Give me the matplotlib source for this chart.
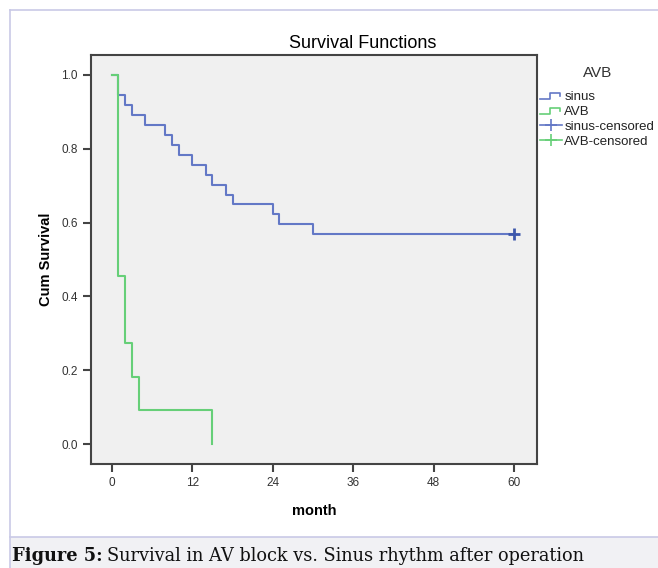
import matplotlib
matplotlib.use("Agg")
import matplotlib.pyplot as plt
from matplotlib.lines import Line2D
from matplotlib.patches import Rectangle
from matplotlib.legend_handler import HandlerBase

plt.rcParams["font.family"] = ["Liberation Sans", "DejaVu Sans"]

# ---- data ----
sinus_time = [0, 1, 2, 3, 5, 8, 9, 10, 12, 14, 15, 17, 18, 24, 25, 30, 60]
sinus_surv = [1.0, 0.946, 0.919, 0.892, 0.865, 0.838, 0.811, 0.784, 0.757,
              0.730, 0.703, 0.676, 0.649, 0.622, 0.595, 0.568, 0.568]
avb_time = [0, 1, 2, 3, 4, 15]
avb_surv = [1.0, 0.455, 0.273, 0.182, 0.091, 0.0]
sinus_cens_time = [60]
sinus_cens_surv = [0.568]
x_ticks = [0, 12, 24, 36, 48, 60]
y_ticks = [0.0, 0.2, 0.4, 0.6, 0.8, 1.0]
legend_labels = ["sinus", "AVB", "sinus-censored", "AVB-censored"]

BLUE = "#6378c6"
BLUE_D = "#3e58ac"
GREEN = "#66cf78"
GREEN_D = "#2eb848"

W, H = 658, 568
fig = plt.figure(figsize=(W / 100, H / 100), dpi=100)
fig.patch.set_facecolor("white")

# page decorations
fig.add_artist(Rectangle((10 / W, 0), 1, (568 - 537) / H, transform=fig.transFigure,
                         facecolor="#f1f1f4", edgecolor="none"))
fig.add_artist(Line2D([10 / W, 1], [(568 - 537) / H] * 2, transform=fig.transFigure,
                      color="#c9c9e6", lw=1.2))
fig.add_artist(Line2D([10 / W, 1], [(568 - 10) / H] * 2, transform=fig.transFigure,
                      color="#c9c9e6", lw=1.2))
fig.add_artist(Line2D([10 / W] * 2, [0, (568 - 10) / H], transform=fig.transFigure,
                      color="#c9c9e6", lw=1.2))

ax = fig.add_axes([91 / W, (568 - 464) / H, (537 - 91) / W, (464 - 55) / H])
ax.set_facecolor("#f0f0f0")

ax.step(sinus_time, sinus_surv, where="post", color=BLUE, lw=1.5)
ax.step(avb_time, avb_surv, where="post", color=GREEN, lw=1.5)
ax.plot(sinus_cens_time, sinus_cens_surv, linestyle="none", marker="+",
        color=BLUE_D, ms=9, mew=2)

ax.set_xlim(-3.1, 63.4)
ax.set_ylim(-0.054, 1.054)
ax.set_xticks(x_ticks)
ax.set_yticks(y_ticks)
ax.set_yticklabels([f"{v:.1f}" for v in y_ticks])
ax.tick_params(direction="out", length=6, width=1.5, color="#444444",
               labelsize=8.5, labelcolor="#333333")
for s in ax.spines.values():
    s.set_color("#444444")
    s.set_linewidth(1.5)

ax.set_xlabel("month", fontsize=10.5, fontweight="bold", labelpad=11)
ax.set_ylabel("Cum Survival", fontsize=10.5, fontweight="bold", labelpad=6)

fig.text(363 / W, (568 - 43) / H, "Survival Functions", ha="center", va="center",
         fontsize=13)


class StepHandler(HandlerBase):
    def create_artists(self, legend, orig_handle, xdescent, ydescent, width, height,
                       fontsize, trans):
        w, h = width, height
        xs = [-xdescent, 0.45 * w - xdescent, 0.45 * w - xdescent, 0.9 * w - xdescent,
              0.9 * w - xdescent]
        ys = [0.1 * h - ydescent, 0.1 * h - ydescent, 0.8 * h - ydescent, 0.8 * h - ydescent,
              0.45 * h - ydescent]
        ln = Line2D(xs, ys, color=orig_handle.get_color(), lw=1.2, transform=trans)
        return [ln]


class CensHandler(HandlerBase):
    def create_artists(self, legend, orig_handle, xdescent, ydescent, width, height,
                       fontsize, trans):
        y = 0.5 * height - ydescent
        ln = Line2D([-xdescent, width - xdescent], [y, y], color=orig_handle.get_color(),
                    lw=1.2, transform=trans)
        mk = Line2D([0.5 * width - xdescent], [y], marker="+", ms=9, mew=1.2,
                    color=orig_handle.get_color(), transform=trans, linestyle="none")
        return [ln, mk]


h1 = Line2D([], [], color=BLUE)
h2 = Line2D([], [], color=GREEN)
h3 = Line2D([], [], color=BLUE)
h4 = Line2D([], [], color=GREEN)
leg = fig.legend([h1, h2, h3, h4], legend_labels,
                 handler_map={h1: StepHandler(), h2: StepHandler(),
                              h3: CensHandler(), h4: CensHandler()},
                 loc="upper left", bbox_to_anchor=(540 / W, (568 - 66) / H),
                 frameon=False, fontsize=9.5, title="AVB", title_fontsize=11,
                 borderpad=0, borderaxespad=0, handlelength=1.7, handletextpad=0.15,
                 labelspacing=0.2)
leg._legend_box.align = "center"
leg._legend_box.sep = 8
for t in leg.get_texts():
    t.set_color("#222222")
leg.get_title().set_color("#333333")

# caption
cap_y = (568 - 556) / H
t1 = fig.text(12 / W, cap_y, "Figure 5:", fontsize=12.8, fontweight="bold",
              family="DejaVu Serif", va="center", color="#111111")
fig.canvas.draw()
bb = t1.get_window_extent()
fig.text((bb.x1 + 4) / W, cap_y, "Survival in AV block vs. Sinus rhythm after operation",
         fontsize=12.8, family="DejaVu Serif", va="center", color="#111111")

fig.savefig("out.png", dpi=100)
